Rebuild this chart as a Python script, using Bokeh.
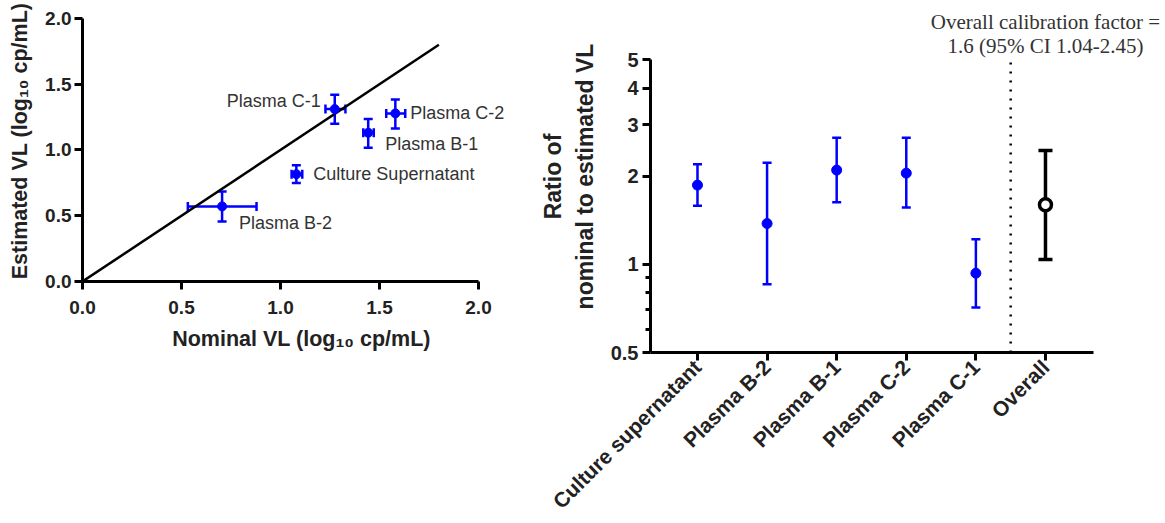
import math
from bokeh.plotting import figure
from bokeh.layouts import row
from bokeh.models import Range1d, FixedTicker, Whisker, TeeHead, ColumnDataSource
from bokeh.core.properties import value
from bokeh.embed import file_html
from bokeh.resources import INLINE

# ---------------- Left panel data ----------------
points = ["Culture Supernatant", "Plasma B-2", "Plasma B-1", "Plasma C-2", "Plasma C-1"]
nominal = [1.08, 0.705, 1.443, 1.58, 1.274]
nominal_lo = [1.056, 0.532, 1.418, 1.534, 1.227]
nominal_hi = [1.11, 0.879, 1.471, 1.63, 1.328]
estimated = [0.816, 0.571, 1.131, 1.278, 1.311]
estimated_lo = [0.748, 0.457, 1.017, 1.164, 1.20]
estimated_hi = [0.884, 0.684, 1.235, 1.384, 1.42]
identity_line = [0.0, 1.8]
left_ticks = [0.0, 0.5, 1.0, 1.5, 2.0]
left_tick_labels = ["0.0", "0.5", "1.0", "1.5", "2.0"]

# ---------------- Right panel data ----------------
samples = ["Culture supernatant", "Plasma B-2", "Plasma B-1", "Plasma C-2", "Plasma C-1"]
ratio = [1.866, 1.379, 2.10, 2.05, 0.933]
ratio_lo = [1.586, 0.856, 1.63, 1.566, 0.712]
ratio_hi = [2.20, 2.226, 2.71, 2.71, 1.218]
overall_label = "Overall"
overall = [1.6]
overall_lo = [1.04]
overall_hi = [2.45]
ratio_ticks = [0.5, 1, 2, 3, 4, 5]
ratio_tick_labels = ["0.5", "1", "2", "3", "4", "5"]
ratio_minor_ticks = [0.6, 0.7, 0.8, 0.9]
annotation = ["Overall calibration factor =", "1.6 (95% CI 1.04-2.45)"]

BLUE = "#0000FF"
FONT = "Liberation Sans"
TXT = "#222222"
BOTTOM = 170  # shared bottom border (frames in a row are aligned)


def style_axis(ax, label_size="21px", tick_size="19px"):
    ax.axis_line_width = 3
    ax.axis_line_color = "black"
    ax.major_tick_line_width = 3
    ax.major_tick_line_color = "black"
    ax.major_tick_out = 8
    ax.major_tick_in = 0
    ax.minor_tick_line_width = 3
    ax.minor_tick_line_color = "black"
    ax.minor_tick_out = 5
    ax.minor_tick_in = 0
    ax.axis_label_text_font = FONT
    ax.axis_label_text_font_style = "bold"
    ax.axis_label_text_font_size = label_size
    ax.axis_label_text_color = TXT
    ax.major_label_text_font = FONT
    ax.major_label_text_font_style = "bold"
    ax.major_label_text_font_size = tick_size
    ax.major_label_text_color = TXT


# ================= Left figure =================
px_x1 = 198.0   # px per unit (x)
px_y1 = 132.0   # px per unit (y)
frame_w1 = 438
frame_h1 = 282
p1 = figure(width=520, height=frame_h1 + BOTTOM, output_backend="svg", toolbar_location=None,
            x_range=Range1d(0, frame_w1 / px_x1), y_range=Range1d(0, frame_h1 / px_y1),
            min_border_left=82, min_border_right=0, min_border_top=0, min_border_bottom=BOTTOM)
p1.grid.visible = False
p1.outline_line_color = None
p1.background_fill_color = "white"
p1.border_fill_color = "white"

for ax in (p1.xaxis[0], p1.yaxis[0]):
    style_axis(ax, label_size="21.5px")
    ax.ticker = FixedTicker(ticks=left_ticks, minor_ticks=[])
    ax.major_label_overrides = dict(zip(left_ticks, left_tick_labels))
    ax.bounds = (0, 2)
p1.xaxis.axis_label = "Nominal VL (log\u2081\u2080 cp/mL)"
p1.yaxis.axis_label = "Estimated VL (log\u2081\u2080 cp/mL)"
p1.xaxis.major_label_standoff = 11
p1.xaxis.axis_label_standoff = 10
p1.yaxis.major_label_standoff = 3
p1.yaxis.axis_label_standoff = 10

p1.line(identity_line, identity_line, line_color="black", line_width=2.5)

src1 = ColumnDataSource(dict(name=points, x=nominal, xlo=nominal_lo, xhi=nominal_hi,
                             y=estimated, ylo=estimated_lo, yhi=estimated_hi))
for dim, base, lo, hi in (("height", "x", "ylo", "yhi"), ("width", "y", "xlo", "xhi")):
    w = Whisker(source=src1, base=base, lower=lo, upper=hi, dimension=dim,
                line_color=BLUE, line_width=2.5,
                upper_head=TeeHead(size=9, line_color=BLUE, line_width=2.5),
                lower_head=TeeHead(size=9, line_color=BLUE, line_width=2.5))
    p1.add_layout(w)
p1.scatter("x", "y", source=src1, size=9, color=BLUE)

label_place = {
    "Culture Supernatant": (17, 0, "left"),
    "Plasma C-2": (15, 0, "left"),
    "Plasma B-1": (17, 11, "left"),
    "Plasma C-1": (-14, -8, "right"),
    "Plasma B-2": (17, 17, "left"),
}
for name, xv, yv in zip(points, nominal, estimated):
    dx, dy, al = label_place[name]
    p1.text([xv], [yv], text=[name], x_offset=dx, y_offset=dy, text_align=al,
            text_baseline="middle", text_font=value(FONT), text_font_size="18px",
            text_color="#333333")

# ================= Right figure =================
px_per_cat = 69.6
px_per_decade = 293.5
frame_w2 = 515
frame_h2 = 353
x_start = -0.675
p2 = figure(width=645, height=frame_h2 + BOTTOM, output_backend="svg", toolbar_location=None,
            y_axis_type="log",
            x_range=Range1d(x_start, x_start + frame_w2 / px_per_cat),
            y_range=Range1d(ratio_ticks[0], ratio_ticks[0] * 10 ** (frame_h2 / px_per_decade)),
            min_border_left=130, min_border_right=0, min_border_top=0, min_border_bottom=BOTTOM)
p2.grid.visible = False
p2.outline_line_color = None
p2.background_fill_color = "white"
p2.border_fill_color = "white"

all_cats = samples + [overall_label]
xpos = list(range(len(samples)))
xo = [len(samples)]

style_axis(p2.xaxis[0], tick_size="21px")
p2.xaxis.ticker = FixedTicker(ticks=list(range(len(all_cats))), minor_ticks=[])
p2.xaxis.major_label_overrides = {i: c for i, c in enumerate(all_cats)}
p2.xaxis.major_label_orientation = math.pi / 4
p2.xaxis.bounds = (x_start, len(all_cats) - 1 + 0.69)
p2.xaxis.major_label_standoff = 3

style_axis(p2.yaxis[0], label_size="23px", tick_size="20px")
p2.yaxis.ticker = FixedTicker(ticks=ratio_ticks, minor_ticks=ratio_minor_ticks)
p2.yaxis.major_label_overrides = dict(zip(ratio_ticks, ratio_tick_labels))
p2.yaxis.bounds = (ratio_ticks[0], ratio_ticks[-1])
p2.yaxis.axis_label = "Ratio of\nnominal to estimated VL"
p2.yaxis.major_label_standoff = 4
p2.yaxis.axis_label_standoff = 10

# separator between samples and the overall estimate
sep = len(samples) - 0.5
p2.segment(x0=[sep], y0=[ratio_ticks[0]], x1=[sep], y1=[ratio_ticks[-1]],
           line_color="black", line_width=2.5, line_dash="2 7")

src2 = ColumnDataSource(dict(x=xpos, y=ratio, lo=ratio_lo, hi=ratio_hi))
p2.add_layout(Whisker(source=src2, base="x", lower="lo", upper="hi", dimension="height",
                      line_color=BLUE, line_width=2.5,
                      upper_head=TeeHead(size=9, line_color=BLUE, line_width=2.5),
                      lower_head=TeeHead(size=9, line_color=BLUE, line_width=2.5)))
p2.scatter("x", "y", source=src2, size=10, color=BLUE)

src3 = ColumnDataSource(dict(x=xo, y=overall, lo=overall_lo, hi=overall_hi))
p2.add_layout(Whisker(source=src3, base="x", lower="lo", upper="hi", dimension="height",
                      line_color="black", line_width=3.5,
                      upper_head=TeeHead(size=14, line_color="black", line_width=3.5),
                      lower_head=TeeHead(size=14, line_color="black", line_width=3.5)))
p2.scatter("x", "y", source=src3, size=12, fill_color="white", line_color="black", line_width=3.5)

for line_txt, off in zip(annotation, (-38, -14)):
    p2.text(xo, [ratio_ticks[-1]], text=[line_txt], y_offset=off, text_align="center",
            text_baseline="alphabetic", text_font=value("Liberation Serif"),
            text_font_size="21px", text_color="#333333")

layout = row(p1, p2)
open("out.html", "w").write(file_html(layout, INLINE))
